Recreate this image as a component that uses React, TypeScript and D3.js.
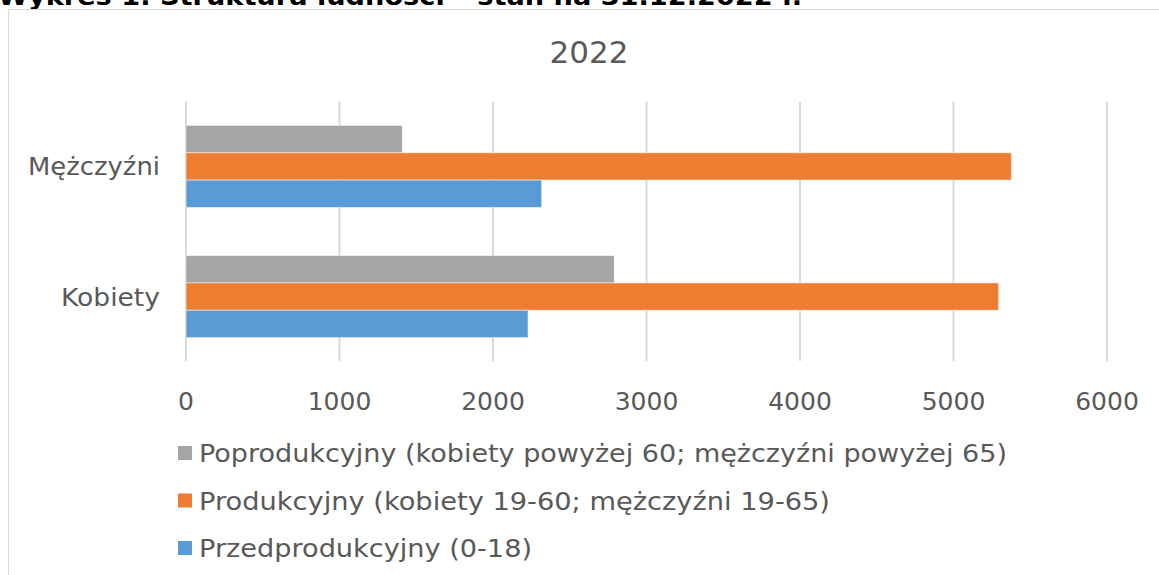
import React from "react";
import * as d3 from "d3";

const categories = ["Mężczyźni", "Kobiety"];
const seriesNames = [
  "Poprodukcyjny (kobiety powyżej 60; mężczyźni powyżej 65)",
  "Produkcyjny (kobiety 19-60; mężczyźni 19-65)",
  "Przedprodukcyjny (0-18)",
];
const poprodukcyjny = [1409, 2790];
const produkcyjny = [5377, 5294];
const przedprodukcyjny = [2317, 2228];
const xTicks = [0, 1000, 2000, 3000, 4000, 5000, 6000];
const colors = ["#A5A5A5", "#ED7D31", "#5B9BD5"];

const FONT = "'DejaVu Sans', Verdana, sans-serif";
const TXT = "#595959";
const legendWidths = [808, 631, 333];
const catWidths = [132, 99];

export default function App() {
  const W = 1159, H = 575;
  const x = d3.scaleLinear().domain([0, 6000]).range([186, 1107]);
  const y = d3.scaleBand().domain(categories).range([102, 361]).paddingInner(0.37).paddingOuter(0.18);
  const sub = d3.scaleBand().domain(["0", "1", "2"]).range([0, y.bandwidth()]);
  const series = [poprodukcyjny, produkcyjny, przedprodukcyjny];

  return (
    <svg width={W} height={H} style={{ position: "absolute", left: 0, top: 0, background: "#fff" }}>
      <text x={-2} y={5} fontFamily={FONT} fontWeight="bold" fontSize={24} fill="#000" textLength={804} lengthAdjust="spacingAndGlyphs">
        Wykres 1. Struktura ludności – stan na 31.12.2022 r.
      </text>
      <path d={`M8.5,${H} V9.5 H${W}`} fill="none" stroke="#D9D9D9" strokeWidth={1} />
      <text x={589} y={63} textAnchor="middle" fontFamily={FONT} fontSize={31} fill={TXT}>2022</text>
      {xTicks.map((t) => (
        <line key={t} x1={x(t)} x2={x(t)} y1={102} y2={361} stroke="#D9D9D9" strokeWidth={2} />
      ))}
      {xTicks.map((t) => (
        <text key={"l" + t} x={x(t)} y={410} textAnchor="middle" fontFamily={FONT} fontSize={25} fill={TXT}>{t}</text>
      ))}
      {categories.map((c, i) => (
        <text key={c} x={160 - catWidths[i]} y={(y(c) as number) + y.bandwidth() / 2 + 9} fontFamily={FONT} fontSize={25} fill={TXT} textLength={catWidths[i]} lengthAdjust="spacingAndGlyphs">{c}</text>
      ))}
      {series.map((vals, si) =>
        categories.map((c, ci) => (
          <rect
            key={si + "-" + ci}
            x={x(0)}
            y={(y(c) as number) + (sub(String(si)) as number)}
            width={x(vals[ci]) - x(0)}
            height={sub.bandwidth()}
            fill={colors[si]}
            stroke="#fff"
            strokeOpacity={0.5}
            strokeWidth={1}
          />
        ))
      )}
      {seriesNames.map((n, i) => (
        <g key={n} transform={`translate(178,${453 + i * 47.5})`}>
          <rect x={0} y={-7} width={14} height={14} fill={colors[i]} />
          <text x={21} y={9} fontFamily={FONT} fontSize={25} fill={TXT} textLength={legendWidths[i]} lengthAdjust="spacingAndGlyphs">{n}</text>
        </g>
      ))}
    </svg>
  );
}
